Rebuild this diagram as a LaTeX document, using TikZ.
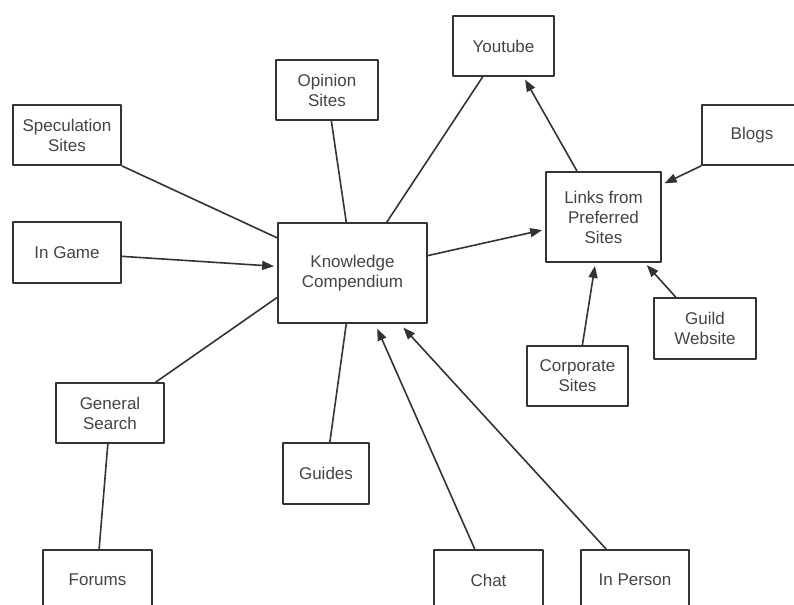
\documentclass[tikz,border=0pt]{standalone}
\usepackage{fontspec}
\setmainfont{Liberation Sans}
\usepackage{tikz}
\usetikzlibrary{arrows.meta}

\definecolor{inkgray}{HTML}{333333}
\definecolor{textgray}{HTML}{444444}

\begin{document}
\begin{tikzpicture}[x=0.5pt, y=-0.5pt, line cap=round, line join=round,
        box/.style={draw=inkgray, line width=0.9pt, fill=white, inner sep=0pt,
            align=center, text=textgray, font=\fontsize{8.5}{10}\selectfont},
        link/.style={draw=inkgray, line width=0.8pt},
        feed/.style={link, -{Triangle[length=6pt, width=4.5pt]}, shorten >=1.5pt}]
        % frame of the page
        \useasboundingbox (0,0) rectangle (794,605);

        % central node
        \node[box, minimum width=74.5pt, minimum height=50pt] (know) at (352.5,273) {Knowledge\\Compendium};

        % left side
        \node[box, minimum width=54pt, minimum height=30pt] (spec) at (67,135) {Speculation\\Sites};
        \node[box, minimum width=54pt, minimum height=30.5pt] (ingame) at (67,252.5) {In Game};
        \node[box, minimum width=54pt, minimum height=30pt] (gensearch) at (110,413) {General\\Search};
        \node[box, minimum width=54.5pt, minimum height=30pt] (forums) at (97.5,580) {Forums};

        % top
        \node[box, minimum width=51pt, minimum height=30pt] (opinion) at (327,90) {Opinion\\Sites};
        \node[box, minimum width=50.5pt, minimum height=30pt] (youtube) at (503.5,46) {Youtube};

        % right side
        \node[box, minimum width=57.5pt, minimum height=45pt] (links) at (603.5,217) {Links from\\Preferred\\Sites};
        \node[box, minimum width=50pt, minimum height=30pt] (blogs) at (752,135) {Blogs};
        \node[box, minimum width=51pt, minimum height=30.5pt] (guild) at (705,328.5) {Guild\\Website};
        \node[box, minimum width=50.5pt, minimum height=30pt] (corp) at (577.5,376) {Corporate\\Sites};

        % bottom
        \node[box, minimum width=43pt, minimum height=30.5pt] (guides) at (326,473.5) {Guides};
        \node[box, minimum width=54.5pt, minimum height=30pt] (chat) at (488.5,580) {Chat};
        \node[box, minimum width=54pt, minimum height=30pt] (inperson) at (635,580) {In Person};

        % plain links
        \draw[link] (spec.south east) -- (know.155);
        \draw[link] (opinion.-82) -- (know.97);
        \draw[link] (youtube.236) -- (know.56);
        \draw[link] (gensearch.34) -- (know.198);
        \draw[link] (gensearch.-94) -- (forums.87);
        \draw[link] (guides.83) -- (know.-97);

        % arrows into the compendium
        \draw[feed] (ingame.-4) -- (know.175);
        \draw[feed, shorten >=2.5pt] (chat.114) -- (know.-66);
        \draw[feed, shorten >=2.5pt] (inperson.133) -- (know.-47);

        % arrows around the preferred sites
        \draw[feed] (know.13) -- (links.192);
        \draw[feed] (links.120) -- (youtube.-57);
        \draw[feed] (blogs.south west) -- (links.29);
        \draw[feed] (corp.81) -- (links.-100);
        \draw[feed] (guild.133) -- (links.-48);
\end{tikzpicture}
\end{document}
